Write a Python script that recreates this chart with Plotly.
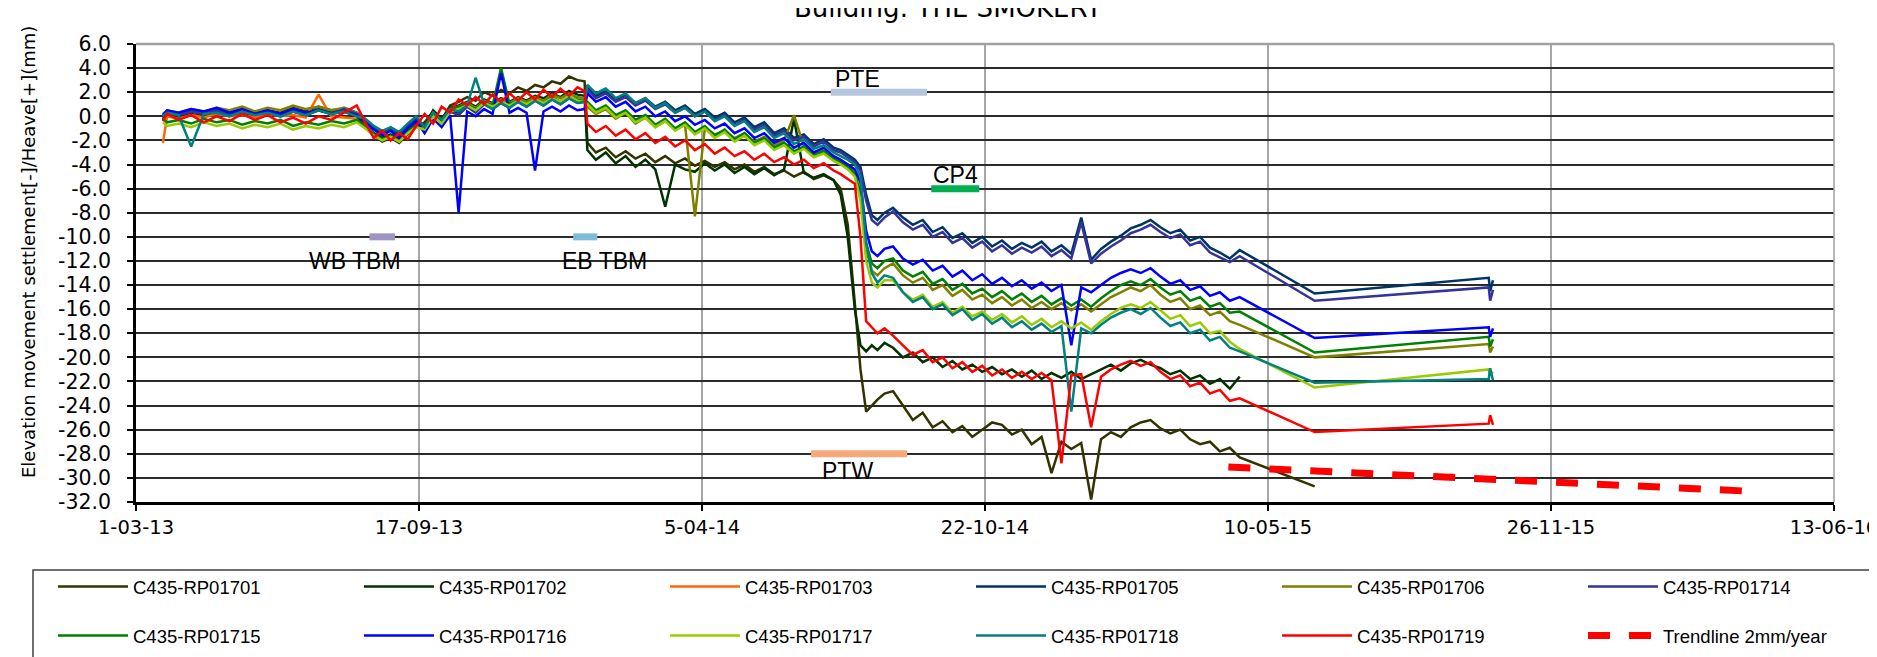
import plotly.graph_objects as go

# ---------------- data ----------------
dates = [
    "2013-03-20", "2013-03-23", "2013-03-31", "2013-04-09", "2013-04-18", "2013-04-27",
    "2013-05-06", "2013-05-15", "2013-05-24", "2013-06-02", "2013-06-11", "2013-06-20",
    "2013-06-29", "2013-07-08", "2013-07-17", "2013-07-26", "2013-08-04",
    "2013-08-10", "2013-08-16", "2013-08-22", "2013-08-28", "2013-09-03", "2013-09-09", "2013-09-15",
    "2013-09-21", "2013-09-27", "2013-10-03", "2013-10-09", "2013-10-15", "2013-10-21",
    "2013-10-27", "2013-11-02", "2013-11-08", "2013-11-14", "2013-11-20", "2013-11-26",
    "2013-12-02", "2013-12-08", "2013-12-14", "2013-12-20", "2013-12-26", "2014-01-01",
    "2014-01-07", "2014-01-12",
    "2014-01-14", "2014-01-20", "2014-01-27", "2014-02-03", "2014-02-10", "2014-02-17",
    "2014-02-24", "2014-03-03", "2014-03-10", "2014-03-17", "2014-03-24", "2014-03-31",
    "2014-04-07", "2014-04-14", "2014-04-21", "2014-04-28", "2014-05-05", "2014-05-12",
    "2014-05-19", "2014-05-26", "2014-06-02", "2014-06-09", "2014-06-16", "2014-06-23",
    "2014-06-30", "2014-07-07", "2014-07-12",
    "2014-07-17", "2014-07-22", "2014-07-26", "2014-07-30", "2014-08-03", "2014-08-07", "2014-08-12",
    "2014-08-18", "2014-08-25", "2014-09-01", "2014-09-08", "2014-09-15", "2014-09-22",
    "2014-09-29", "2014-10-06", "2014-10-13", "2014-10-20", "2014-10-27", "2014-11-03",
    "2014-11-10", "2014-11-17", "2014-11-24", "2014-12-01", "2014-12-08", "2014-12-15",
    "2014-12-22", "2014-12-29", "2015-01-05", "2015-01-12", "2015-01-19", "2015-01-26",
    "2015-02-02", "2015-02-09", "2015-02-16", "2015-02-23", "2015-03-02", "2015-03-09",
    "2015-03-16", "2015-03-23", "2015-03-30", "2015-04-06", "2015-04-13", "2015-04-20",
]

rp01701 = [
    -0.3, 0.3, 0.1, 0.4, 0.2, 0.5, 0.3, 0.6, 0.2, 0.5, 0.3, 0.7, 0.4, 0.8, 0.5, 0.6, 0.2,
    -0.8, -1.6, -2.1, -1.8, -2.2, -1.5, -0.9,
    -0.5, 0.4, -0.3, 0.9, 1.2, 1.6, 1.3, 2.0, 1.7, 2.2, 1.9, 2.4, 2.1, 2.6, 2.4, 2.9, 2.7, 3.3, 3.0, 2.9,
    -2.2, -3.0, -2.6, -3.4, -2.9, -3.5, -3.1, -3.8, -3.3, -3.9, -3.5, -4.1, -3.7, -4.2, -3.8, -4.4,
    -4.0, -4.6, -4.2, -4.8, -4.5, -5.0, -4.6, -5.2, -4.9, -5.3, -6.0,
    -9.0, -15.5, -21.0, -24.5, -24.0, -23.5, -23.0,
    -22.8, -24.0, -25.2, -24.6, -25.8, -25.3, -26.2, -25.7, -26.6, -26.0, -25.4, -25.6,
    -26.4, -26.0, -27.2, -26.6, -29.6, -27.0, -27.6, -27.1, -31.8, -26.8, -26.2, -26.6,
    -25.8, -25.4, -25.2, -25.9, -26.3, -26.0, -26.8, -27.2, -27.0, -27.8, -27.5, -28.3,
]
rp01702 = [
    -0.2, 0.1, -0.1, 0.2, 0.0, 0.3, 0.1, 0.3, 0.0, 0.2, 0.1, 0.4, 0.2, 0.5, 0.3, 0.4, 0.0,
    -0.7, -1.4, -1.8, -1.5, -1.9, -1.2, -0.6,
    -0.8, 0.5, -0.2, 0.7, 0.9, 1.2, 0.8, 1.4, 1.1, 1.5, 1.2, 1.6, 1.3, 1.7, 1.5, 1.9, 1.6, 2.1, 1.8, 1.7,
    -2.8, -3.6, -3.0, -3.9, -3.3, -4.2, -3.6, -4.4, -7.5, -4.0, -4.4, -4.6, -3.9, -4.5, -4.0, -4.7,
    -4.2, -4.8, -4.3, -4.9, -4.4, -0.2, -4.7, -5.1, -4.8, -5.3, -6.5,
    -10.0, -16.0, -19.0, -19.5, -19.0, -19.4, -18.8,
    -19.2, -20.0, -19.6, -20.4, -20.0, -20.8, -20.3, -21.0, -20.6, -21.2, -20.8, -21.4,
    -21.0, -21.6, -21.1, -21.8, -21.3, -21.7, -21.2, -21.8, -21.4, -21.0, -20.6, -21.1,
    -20.5, -20.2, -20.6, -20.9, -21.4, -21.1, -21.8, -21.5, -22.2, -21.8, -22.6, -21.6,
]
rp01703 = [
    -2.2, 0.0, -0.2, 0.1, -0.1, 0.2, 0.0, 0.1, -0.1, 0.2, 0.0, 0.1, -0.1, 1.8, 0.0, -0.1, -0.2,
]
rp01705 = [
    0.1, 0.4, 0.2, 0.5, 0.3, 0.6, 0.2, 0.5, 0.3, 0.4, 0.1, 0.5, 0.2, 0.6, 0.3, 0.7, 0.3,
    -0.3, -0.9, -1.4, -1.0, -1.5, -0.8, -0.2,
    -1.2, 0.2, -0.6, 0.5, 0.2, 0.9, 0.4, 1.1, 0.7, 1.2, 0.8, 1.3, 0.9, 1.4, 1.0, 1.5, 1.1, 1.6, 1.2, 1.3,
    2.4, 1.7, 2.1, 1.4, 1.8, 1.1, 1.5, 0.8, 1.2, 0.5, 0.9, 0.2, 0.6, -0.1, 0.3, -0.5,
    -0.1, -0.9, -0.5, -1.4, -1.0, -1.8, -1.5, -2.3, -1.9, -2.6, -2.8,
    -3.2, -3.6, -4.2, -6.5, -8.2, -8.6, -8.0,
    -7.6, -8.4, -9.0, -8.6, -9.6, -9.2, -10.1, -9.7, -10.5, -10.0, -10.8, -10.3,
    -11.0, -10.5, -10.9, -10.4, -11.2, -10.7, -11.4, -8.4, -11.9, -11.0, -10.4, -9.9,
    -9.3, -9.0, -8.6, -9.2, -9.7, -9.4, -10.3, -10.0, -10.9, -11.3, -11.8, -11.1,
]
rp01706 = [
    0.2, 0.5, 0.3, 0.6, 0.4, 0.7, 0.5, 0.8, 0.4, 0.7, 0.5, 0.9, 0.6, 0.8, 0.5, 0.7, 0.3,
    -0.6, -1.5, -2.0, -1.7, -2.1, -1.4, -0.8,
    -0.9, 0.3, -0.4, 0.6, 0.8, 1.1, 0.7, 1.3, 1.0, 1.4, 1.1, 1.5, 1.2, 1.6, 1.3, 1.8, 1.5, 1.9, 1.6, 1.5,
    0.8, 0.2, 0.6, -0.2, 0.3, -0.6, -0.1, -0.9, -0.4, -1.1, -0.7, -8.3, -1.0, -1.5, -1.2, -1.8,
    -1.4, -2.1, -1.7, -2.4, -2.0, 0.1, -2.5, -3.0, -2.8, -3.3, -3.6,
    -4.0, -4.6, -6.5, -11.0, -12.8, -13.2, -12.6,
    -12.2, -13.2, -13.8, -13.4, -14.4, -14.0, -14.9, -14.4, -15.2, -14.8, -15.5, -15.0,
    -15.7, -15.2, -15.9, -15.4, -16.0, -15.5, -16.1, -15.6, -16.2, -15.6, -15.0, -14.6,
    -14.2, -14.5, -14.0, -14.8, -15.4, -15.1, -16.0, -15.7, -16.5, -16.2, -17.0, -17.3,
]
rp01714 = [
    0.0, 0.3, 0.1, 0.4, 0.2, 0.5, 0.1, 0.4, 0.2, 0.3, 0.0, 0.4, 0.1, 0.5, 0.2, 0.6, 0.2,
    -0.4, -1.0, -1.5, -1.1, -1.6, -0.9, -0.3,
    -1.0, 0.1, -0.5, 0.4, 0.1, 0.8, 0.3, 1.0, 0.6, 1.1, 0.7, 1.2, 0.8, 1.3, 0.9, 1.4, 1.0, 1.5, 1.1, 1.2,
    2.2, 1.5, 1.9, 1.2, 1.6, 0.9, 1.3, 0.6, 1.0, 0.3, 0.7, 0.0, 0.4, -0.3, 0.1, -0.7,
    -0.3, -1.1, -0.7, -1.6, -1.2, -2.0, -1.7, -2.5, -2.1, -2.8, -3.0,
    -3.4, -3.8, -4.5, -7.0, -8.6, -9.0, -8.4,
    -7.9, -8.8, -9.4, -9.0, -10.0, -9.6, -10.5, -10.1, -10.9, -10.4, -11.2, -10.7,
    -11.4, -10.9, -11.3, -10.8, -11.6, -11.1, -11.8, -8.8, -12.2, -11.4, -10.8, -10.3,
    -9.7, -9.4, -9.0, -9.6, -10.1, -9.8, -10.7, -10.4, -11.3, -11.7, -12.1, -11.6,
]
rp01715 = [
    -0.2, -0.5, -0.3, -0.6, -0.2, -0.5, -0.3, -0.7, -0.4, -0.6, -0.3, -0.8, -0.5, -0.7, -0.4, -0.6, -0.3,
    -0.9, -1.5, -1.9, -1.6, -2.0, -1.3, -0.7,
    -1.0, 0.2, -0.5, 0.6, 0.8, 1.0, 0.6, 1.2, 0.9, 4.0, 1.0, 1.3, 1.0, 1.4, 1.1, 1.6, 1.2, 1.7, 1.4, 1.3,
    1.2, 0.5, 0.9, 0.1, 0.5, -0.3, 0.1, -0.7, -0.2, -1.0, -0.5, -1.3, -0.8, -1.6, -1.1, -1.9,
    -1.4, -2.2, -1.8, -2.6, -2.2, -2.9, -2.5, -3.2, -2.9, -3.5, -3.8,
    -4.2, -4.8, -6.5, -10.5, -12.2, -12.6, -12.0,
    -11.8, -12.8, -13.3, -12.9, -13.9, -13.5, -14.4, -13.9, -14.7, -14.3, -15.0, -14.5,
    -15.2, -14.7, -15.4, -14.9, -15.6, -15.1, -15.7, -15.2, -15.8, -15.1, -14.5, -14.0,
    -13.7, -14.0, -13.5, -14.2, -14.8, -14.5, -15.3, -15.0, -15.8, -15.5, -16.3, -16.2,
]
rp01716 = [
    0.1, 0.5, 0.3, 0.6, 0.4, 0.7, 0.3, 0.6, 0.2, 0.5, 0.2, 0.6, 0.3, 0.5, 0.2, 0.4, 0.1,
    -0.5, -1.1, -1.6, -1.2, -1.8, -1.0, -0.4,
    -1.4, -0.2, -0.9, 0.1, -8.0, 0.4, 0.0, 0.6, 0.2, 3.6, 0.3, 0.7, 0.3, -4.5, 0.4, 0.8, 0.4, 0.9, 0.5, 0.6,
    1.9, 1.2, 1.6, 0.8, 1.2, 0.4, 0.8, 0.0, 0.4, -0.4, 0.0, -0.7, -0.3, -1.0, -0.6, -1.4,
    -1.0, -1.8, -1.4, -2.2, -1.8, -2.6, -2.2, -3.0, -2.6, -3.3, -3.6,
    -4.0, -4.4, -5.5, -9.5, -11.2, -11.6, -11.0,
    -10.8, -11.8, -12.3, -11.9, -12.8, -12.4, -13.3, -12.8, -13.6, -13.1, -13.9, -13.4,
    -14.1, -13.6, -14.3, -13.8, -14.5, -14.0, -19.0, -14.2, -14.6, -14.0, -13.4, -13.0,
    -12.7, -13.0, -12.6, -13.3, -13.9, -13.6, -14.4, -14.1, -14.9, -14.6, -15.3, -15.0,
]
rp01717 = [
    -0.5, -0.8, -0.6, -0.9, -0.5, -0.8, -0.6, -1.0, -0.7, -0.9, -0.6, -1.1, -0.8, -1.0, -0.7, -0.9, -0.5,
    -1.0, -1.6, -2.0, -1.7, -2.1, -1.4, -0.9,
    -1.1, 0.0, -0.6, 0.4, 0.6, 0.9, 0.5, 1.1, 0.8, 1.2, 0.9, 1.3, 1.0, 1.4, 1.1, 1.5, 1.2, 1.7, 1.3, 1.2,
    1.0, 0.3, 0.7, -0.1, 0.3, -0.5, -0.1, -0.9, -0.4, -1.2, -0.7, -1.5, -1.0, -1.8, -1.3, -2.1,
    -1.6, -2.4, -2.0, -2.8, -2.4, -3.1, -2.7, -3.4, -3.1, -3.7, -4.0,
    -4.4, -5.0, -7.0, -12.0, -13.8, -14.2, -13.6,
    -13.6, -14.6, -15.2, -14.8, -15.8, -15.4, -16.3, -15.8, -16.6, -16.2, -16.9, -16.4,
    -17.1, -16.6, -17.3, -16.8, -17.5, -17.0, -17.6, -17.1, -17.7, -17.0, -16.4, -15.9,
    -15.6, -15.9, -15.4, -16.1, -16.8, -16.5, -17.4, -17.1, -18.0, -17.8, -18.7, -19.3,
]
rp01718 = [
    0.0, 0.3, 0.1, -2.5, 0.2, 0.3, 0.0, 0.4, 0.1, 0.3, 0.0, 0.4, 0.1, 0.5, 0.2, 0.4, 0.0,
    -0.2, -0.8, -1.2, -0.9, -1.3, -0.6, 0.0,
    -0.9, 0.3, -0.3, 0.6, 0.4, 0.9, 3.2, 1.0, 0.6, 1.1, 0.7, 1.2, 0.8, 1.3, 0.9, 1.4, 1.0, 1.5, 1.1, 1.2,
    2.6, 1.9, 2.3, 1.5, 1.9, 1.1, 1.5, 0.7, 1.1, 0.3, 0.7, 0.0, 0.4, -0.4, 0.0, -0.8,
    -0.4, -1.3, -0.9, -1.8, -1.4, -2.3, -1.9, -2.7, -2.4, -3.0, -3.3,
    -3.6, -4.0, -5.0, -10.5, -13.0, -13.8, -13.2,
    -13.4, -14.6, -15.4, -15.0, -16.0, -15.6, -16.5, -16.0, -16.9, -16.4, -17.2, -16.7,
    -17.5, -17.0, -17.7, -17.2, -17.9, -17.4, -24.5, -17.6, -18.0, -17.3, -16.7, -16.3,
    -16.0, -16.4, -15.9, -16.7, -17.4, -17.1, -18.0, -17.7, -18.6, -18.3, -19.2, -19.5,
]
rp01719 = [
    -0.4, 0.2, -0.3, 0.1, -0.5, 0.0, -0.4, 0.2, -0.3, 0.1, -0.5, -0.1, -0.6, 0.0, -0.3, 0.3, 0.9,
    -0.5, -1.8, -1.2, -2.0, -1.4, -1.9, -0.8,
    0.2, -0.6, 0.8, 0.3, 1.4, 0.9, 1.6, 1.0, 1.8, 1.2, 1.9, 1.3, 2.0, 1.4, 2.2, 1.6, 2.3, 1.7, 2.4, 2.1,
    -0.6, -1.3, -0.8, -1.6, -1.1, -1.9, -1.4, -2.2, -1.7, -2.5, -2.0, -2.8, -2.3, -3.1, -2.6, -3.3,
    -2.9, -3.6, -3.1, -3.8, -3.4, -4.0, -3.6, -4.3, -3.9, -4.5, -4.8,
    -5.2, -5.6, -10.0, -17.0, -17.5, -18.0, -17.6,
    -18.2, -19.0, -19.8, -19.4, -20.4, -20.0, -20.9, -20.4, -21.2, -20.7, -21.5, -21.0,
    -21.7, -21.2, -21.8, -21.3, -21.9, -28.8, -21.5, -21.4, -25.8, -21.6, -21.0, -20.6,
    -20.3, -20.7, -20.4, -21.2, -21.8, -21.5, -22.4, -22.1, -23.0, -22.7, -23.6, -23.4,
]

# readings after the monitoring gap
late_dates = ["2015-06-12", "2015-10-13", "2015-10-14", "2015-10-16"]
rp01701_late_dates = ["2015-06-12"]
rp01701_late = [-30.7]
rp01705_late = [-14.7, -13.4, -14.5, -13.6]
rp01706_late = [-20.0, -18.9, -19.6, -19.1]
rp01714_late = [-15.3, -14.2, -15.3, -14.4]
rp01715_late = [-19.6, -18.3, -19.1, -18.5]
rp01716_late = [-18.4, -17.5, -18.3, -17.6]
rp01717_late = [-22.5, -21.0, -21.5, -21.2]
rp01718_late = [-22.1, -21.8, -20.9, -21.9]
rp01719_late = [-26.2, -25.5, -24.8, -25.6]

trend_dates = ["2015-04-12", "2016-04-13"]
trend_values = [-29.1, -31.1]

event_names = ["WB TBM", "EB TBM", "PTE", "CP4", "PTW"]
event_start = ["2013-08-13", "2014-01-04", "2014-07-05", "2014-09-14", "2014-06-21"]
event_end = ["2013-08-31", "2014-01-21", "2014-09-11", "2014-10-18", "2014-08-28"]
event_level = [-10.0, -10.0, 2.0, -6.0, -28.0]
event_label_date = ["2013-08-03", "2014-01-26", "2014-07-24", "2014-10-01", "2014-07-17"]
event_label_level = [-12.0, -12.0, 3.1, -4.9, -29.4]
event_colors = ["#a093c2", "#7fbcd9", "#b6c6de", "#00b050", "#f8a97c"]

xtick_vals = ["2013-03-01", "2013-09-17", "2014-04-05", "2014-10-22", "2015-05-10", "2015-11-26", "2016-06-13"]
xtick_text = ["1-03-13", "17-09-13", "5-04-14", "22-10-14", "10-05-15", "26-11-15", "13-06-16"]
ytick_vals = [6, 4, 2, 0, -2, -4, -6, -8, -10, -12, -14, -16, -18, -20, -22, -24, -26, -28, -30, -32]
ytick_text = ["6.0", "4.0", "2.0", "0.0", "-2.0", "-4.0", "-6.0", "-8.0", "-10.0", "-12.0", "-14.0",
              "-16.0", "-18.0", "-20.0", "-22.0", "-24.0", "-26.0", "-28.0", "-30.0", "-32.0"]

# ---------------- figure ----------------
W, H = 1877, 657
ML, MR, MT, MB = 128, 51, 36, 163
PW, PH = W - ML - MR, H - MT - MB


def px_x(p):
    return (p - ML) / PW


def px_y(p):
    return (H - MB - p) / PH


LEG_IDS = ["legend", "legend2", "legend3", "legend4", "legend5", "legend6"]

series = [
    ("C435-RP01701", rp01701, rp01701_late_dates, rp01701_late, "#333300"),
    ("C435-RP01702", rp01702, [], [], "#003300"),
    ("C435-RP01703", rp01703, [], [], "#ff6600"),
    ("C435-RP01705", rp01705, late_dates, rp01705_late, "#003366"),
    ("C435-RP01706", rp01706, late_dates, rp01706_late, "#808000"),
    ("C435-RP01714", rp01714, late_dates, rp01714_late, "#333399"),
    ("C435-RP01715", rp01715, late_dates, rp01715_late, "#008000"),
    ("C435-RP01716", rp01716, late_dates, rp01716_late, "#0000ff"),
    ("C435-RP01717", rp01717, late_dates, rp01717_late, "#99cc00"),
    ("C435-RP01718", rp01718, late_dates, rp01718_late, "#008080"),
    ("C435-RP01719", rp01719, late_dates, rp01719_late, "#ff0000"),
]

fig = go.Figure()

for i in range(len(event_names)):
    fig.add_trace(go.Scatter(
        x=[event_start[i], event_end[i]], y=[event_level[i], event_level[i]],
        mode="lines", line=dict(color=event_colors[i], width=7),
        showlegend=False, hoverinfo="skip"))

for k, (name, vals, ldates, lvals, color) in enumerate(series):
    fig.add_trace(go.Scatter(
        x=dates[:len(vals)] + ldates, y=vals + lvals, mode="lines", name=name,
        line=dict(color=color, width=2.5), legend=LEG_IDS[k % 6], legendgroup=name))

fig.add_trace(go.Scatter(
    x=trend_dates, y=trend_values, mode="lines", name="Trendline 2mm/year",
    line=dict(color="#ff0000", width=7, dash="22px,19px"), legend=LEG_IDS[5],
    legendgroup="trend"))

for i in range(len(event_names)):
    fig.add_annotation(x=event_label_date[i], y=event_label_level[i], text=event_names[i],
                       showarrow=False, xanchor="center", yanchor="middle",
                       font=dict(family="Liberation Sans, Arial", size=23, color="black"))

fig.add_annotation(xref="paper", yref="paper", x=px_x(21), y=px_y(244),
                   text="Elevation movement settlement[-]/Heave[+](mm)", textangle=-90,
                   showarrow=False, xanchor="center", yanchor="middle",
                   font=dict(family="DejaVu Sans", size=18, color="black"))

fig.add_annotation(xref="paper", yref="paper", x=px_x(940), y=px_y(0),
                   text="Building: THE SMOKERY", showarrow=False,
                   xanchor="center", yanchor="middle",
                   font=dict(family="DejaVu Sans", size=26, color="black"))

xtickfont = dict(family="DejaVu Sans", size=19.5, color="black")
ytickfont = dict(family="DejaVu Sans", size=20.5, color="black")
legfont = dict(family="Liberation Sans, Arial", size=18.5, color="black")

legends = {}
for c, lid in enumerate(LEG_IDS):
    legends[lid] = dict(orientation="v", x=px_x(45 + 306 * c), y=px_y(560),
                        xanchor="left", yanchor="top", itemwidth=70, font=legfont,
                        tracegroupgap=22, bgcolor="rgba(0,0,0,0)", borderwidth=0)

fig.update_layout(
    width=W, height=H, autosize=False,
    margin=dict(l=ML, r=MR, t=MT, b=MB, autoexpand=False),
    paper_bgcolor="white", plot_bgcolor="white",
    xaxis=dict(type="date", range=["2013-03-01", "2016-06-13"], tickvals=xtick_vals, ticktext=xtick_text,
               showgrid=True, gridcolor="#a6a6a6", gridwidth=1.5, zeroline=False,
               showline=True, linecolor="black", linewidth=2.5, ticks="outside", ticklen=6,
               tickcolor="black", tickwidth=1.5, tickfont=xtickfont),
    yaxis=dict(range=[-32, 6], tickvals=ytick_vals, ticktext=ytick_text,
               showgrid=True, gridcolor="#2b2b2b", gridwidth=2, zeroline=False,
               showline=True, linecolor="black", linewidth=2.5, ticks="outside", ticklen=6,
               tickcolor="black", tickwidth=1.5, tickfont=ytickfont, ticklabelstandoff=12),
    shapes=[
        dict(type="line", xref="paper", yref="paper", x0=0, x1=1, y0=1, y1=1,
             line=dict(color="#a0a0a0", width=2.5)),
        dict(type="line", xref="paper", yref="paper", x0=1, x1=1, y0=0, y1=1,
             line=dict(color="#a0a0a0", width=1.5)),
        dict(type="rect", xref="paper", yref="paper", x0=px_x(25), x1=px_x(1863),
             y0=px_y(562), y1=px_y(720), line=dict(color="#404040", width=1.5),
             fillcolor="rgba(0,0,0,0)", layer="above"),
    ],
    showlegend=True,
    **legends,
)

fig.write_html("out.html")
